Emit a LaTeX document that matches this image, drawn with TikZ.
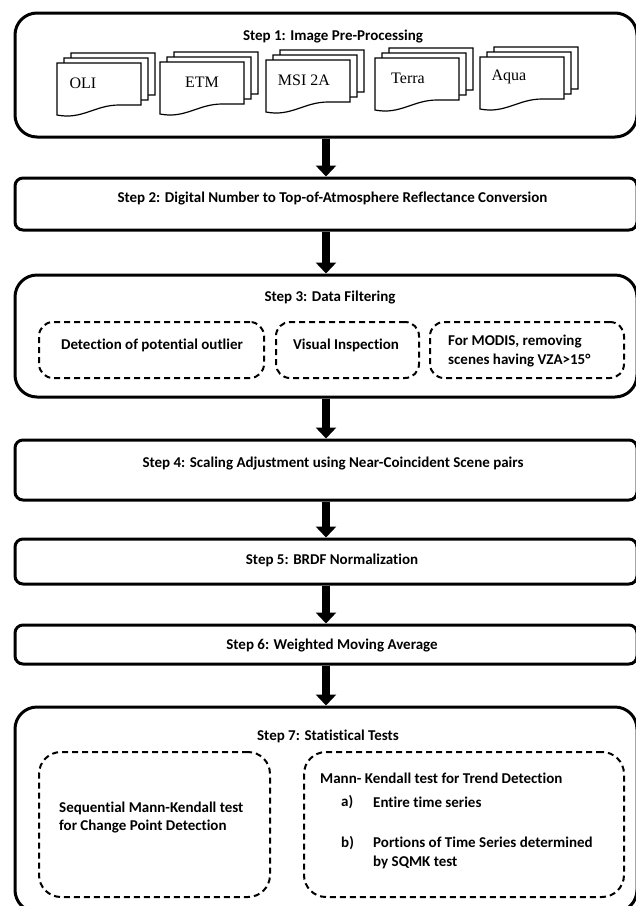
\documentclass[tikz,border=0pt]{standalone}
\usepackage{fontspec}
\setmainfont{Carlito}[Ligatures=NoCommon]
\newfontfamily\docfont{Liberation Serif}
\usetikzlibrary{arrows.meta}

\begin{document}
\begin{tikzpicture}[x=1pt, y=-1pt,
        stepbox/.style={draw=black, line width=3pt, rounded corners=8pt, minimum width=622pt, inner sep=0pt},
        bigbox/.style={stepbox, rounded corners=22pt},
        subbox/.style={draw=black, line width=2pt, dash pattern=on 6pt off 4pt, rounded corners=14pt, inner sep=0pt},
        txt/.style={font=\fontsize{15}{18.5}\selectfont\bfseries, inner sep=0pt},
        sheet/.style={draw=black, line width=1.2pt, fill=white},
        doclabel/.style={font=\docfont\fontsize{16}{16}\selectfont, inner sep=0pt},
        flow/.style={line width=8pt, -{Triangle[width=20pt,length=11pt]}}]
        \useasboundingbox (0,0) rectangle (636,906);

        \node[bigbox, minimum height=124pt] (s1) at (326,75) {};
        \node[stepbox, minimum height=52pt] (s2) at (326,204) {};
        \node[bigbox, minimum height=122pt] (s3) at (326,336) {};
        \node[stepbox, minimum height=60pt] (s4) at (326,470) {};
        \node[stepbox, minimum height=45pt] (s5) at (326,561.5) {};
        \node[stepbox, minimum height=39pt] (s6) at (326,644.5) {};
        \node[bigbox, minimum height=205pt] (s7) at (326,809.5) {};

        \node[txt] (t1) at (333,37) {Step 1: Image Pre-Processing};
        \node[txt] (t2) at (332.5,199) {Step 2: Digital Number to Top-of-Atmosphere Reflectance Conversion};
        \node[txt] (t3) at (330,298) {Step 3: Data Filtering};
        \node[txt] (t4) at (333,464) {Step 4: Scaling Adjustment using Near-Coincident Scene pairs};
        \node[txt] (t5) at (332,560) {Step 5: BRDF Normalization};
        \node[txt] (t6) at (332,645) {Step 6: Weighted Moving Average};
        \node[txt] (t7) at (328,736) {Step 7: Statistical Tests};

        \foreach \x/\y/\nm/\lbl/\lx in {57/63/oli/OLI/26, 160/62/etm/ETM/42, 266/60/msi/MSI 2A/38, 375/58/terra/Terra/33, 480/57/aqua/Aqua/29} {
            \foreach \k in {2,1,0} {
                \pgfmathsetmacro\X{\x+7*\k}
                \pgfmathsetmacro\Y{\y-5*\k}
                \draw[sheet] (\X,\Y) -- ({\X+84},\Y) -- ({\X+84},{\Y+42}) -- ({\X+62},{\Y+42})
                    .. controls ({\X+38},{\Y+42}) and ({\X+25},{\Y+57}) .. (\X,{\Y+52}) -- cycle;
            }
            \node[doclabel] (\nm) at ({\x+\lx},{\y+20}) {\lbl};
        }

        \node[subbox, minimum width=225pt, minimum height=56pt] (d1) at (151.5,350) {};
        \node[subbox, minimum width=143pt, minimum height=56pt] (d2) at (347.5,350) {};
        \node[subbox, minimum width=194pt, minimum height=56pt] (d3) at (527,350) {};
        \node[txt] (outlier) at (152,345) {Detection of potential outlier};
        \node[txt] (visual) at (346,345) {Visual Inspection};
        \node[txt, anchor=west, align=left] (modis) at (448,351) {For MODIS, removing\\scenes having VZA>15°};

        \node[subbox, rounded corners=22pt, minimum width=231pt, minimum height=145pt] (d4) at (154.5,824.5) {};
        \node[subbox, rounded corners=22pt, minimum width=320pt, minimum height=145pt] (d5) at (464,824.5) {};
        \node[txt, anchor=west, align=left] (sqmk) at (59,817.5) {Sequential Mann-Kendall test\\for Change Point Detection};
        \node[txt, anchor=west] (mk) at (320,778) {Mann- Kendall test for Trend Detection};
        \node[txt, anchor=west] (ia) at (341,802) {a)};
        \node[txt, anchor=west] (entire) at (373,802) {Entire time series};
        \node[txt, anchor=west] (ib) at (341,843) {b)};
        \node[txt, anchor=west, align=left] (portions) at (373,853) {Portions of Time Series determined\\by SQMK test};

        \path (s1) edge[flow] (s2);
        \path (s2) edge[flow] (s3);
        \path (s3) edge[flow] (s4);
        \path (s4) edge[flow] (s5);
        \path (s5) edge[flow] (s6);
        \path (s6) edge[flow] (s7);
\end{tikzpicture}
\end{document}
